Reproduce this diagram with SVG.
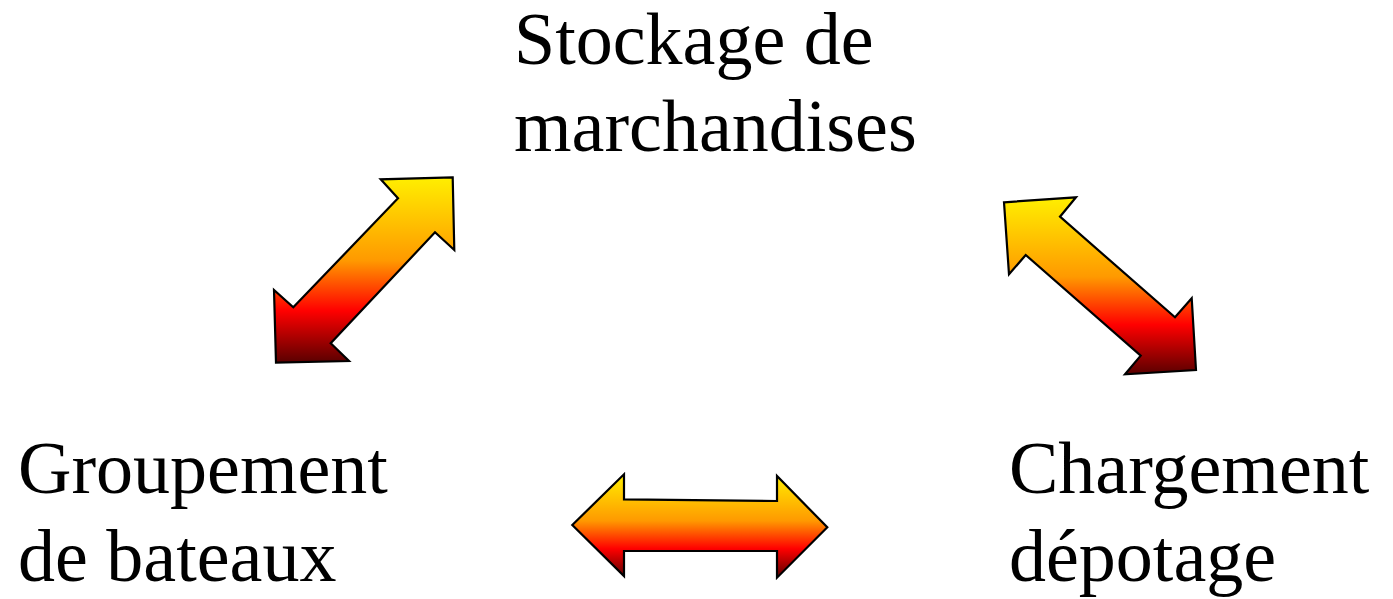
<svg xmlns="http://www.w3.org/2000/svg" width="1393" height="599" viewBox="0 0 1393 599">
<defs>
<linearGradient id="g" x1="0" y1="0" x2="0" y2="1">
<stop offset="0" stop-color="#ffef00"/>
<stop offset="0.45" stop-color="#ff9900"/>
<stop offset="0.72" stop-color="#ff0000"/>
<stop offset="1" stop-color="#5a0000"/>
</linearGradient>
</defs>
<style>
.t{font-family:"Liberation Serif","Times New Roman",serif;font-size:74px;fill:#000}
.a{fill:url(#g);stroke:#000;stroke-width:2.2;stroke-linejoin:miter}
</style>
<g id="stockage"><text class="t" x="514" y="64">Stockage de</text><text class="t" x="514" y="151">marchandises</text></g>
<g id="groupement"><text class="t" x="18" y="493">Groupement</text><text class="t" x="18" y="581">de bateaux</text></g>
<g id="chargement"><text class="t" x="1009" y="493">Chargement</text><text class="t" x="1009" y="581">dépotage</text></g>
<g id="connectors">
<polygon class="a" points="452.7,177.3 380.7,179.3 398,198.3 293.3,307.3 274,290 276,362.7 349,361 330.7,343.3 435,232.3 454.3,250"/>
<polygon class="a" points="1004,202.3 1076,197.3 1060,216.7 1175,317.3 1191.7,298.3 1196,370 1125,374.3 1140.7,355.7 1025.7,255 1009,274.3"/>
<polygon class="a" points="572.3,525 624,474.3 624,499.3 777,501 777,476 827.3,527.3 777,577.7 777,551 624,551 624,576"/>
</g>
</svg>
